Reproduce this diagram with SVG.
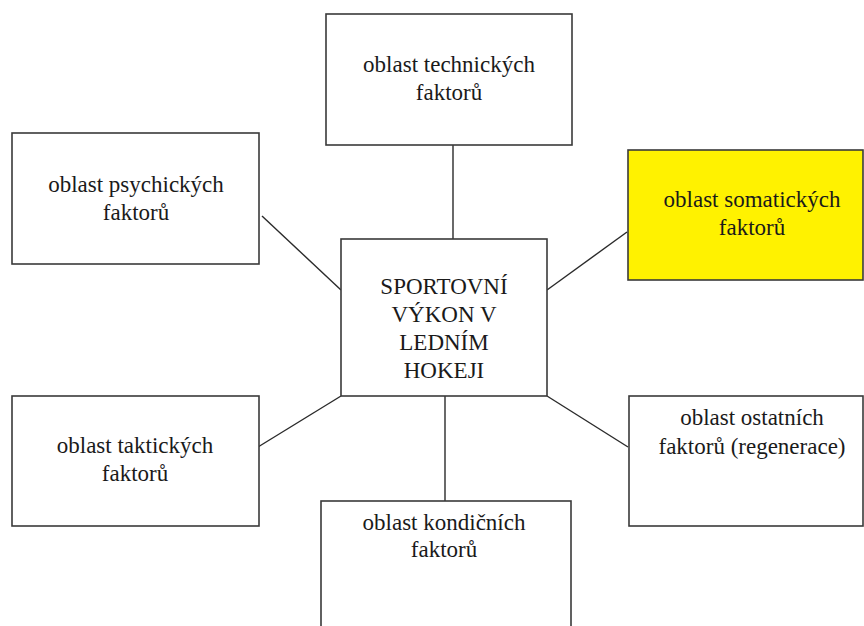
<svg xmlns="http://www.w3.org/2000/svg" width="864" height="626" viewBox="0 0 864 626">
<style>
.box{fill:#fff;stroke:#3a3a3a;stroke-width:1.6}
.yel{fill:#fff200;stroke:#3a3a3a;stroke-width:1.6}
.c{stroke:#2a2a2a;stroke-width:1.4;fill:none}
</style>
<rect width="864" height="626" fill="#fff"/>
<g id="connectors">
<line class="c" x1="453" y1="145" x2="453" y2="239"/>
<line class="c" x1="262" y1="216" x2="341" y2="290"/>
<line class="c" x1="547" y1="290" x2="627" y2="232"/>
<line class="c" x1="258" y1="447" x2="341" y2="396"/>
<line class="c" x1="547" y1="396" x2="628" y2="447"/>
<line class="c" x1="445" y1="396" x2="445" y2="501"/>
</g>
<g font-family="Liberation Serif, Times New Roman, serif" font-size="23" fill="#1a1a1a" text-anchor="middle">
<g id="center">
<rect class="box" x="341" y="239" width="206" height="157"/>
<text x="444" y="294">SPORTOVNÍ</text>
<text x="444" y="322">VÝKON V</text>
<text x="444" y="350">LEDNÍM</text>
<text x="444" y="378">HOKEJI</text>
</g>
<g id="technicke">
<rect class="box" x="326" y="14" width="246" height="131"/>
<text x="449" y="72">oblast technických</text>
<text x="449" y="100">faktorů</text>
</g>
<g id="psychicke">
<rect class="box" x="12" y="133" width="247" height="131"/>
<text x="136" y="192">oblast psychických</text>
<text x="136" y="220">faktorů</text>
</g>
<g id="somaticke">
<rect class="yel" x="628" y="150" width="235" height="130"/>
<text x="752" y="207">oblast somatických</text>
<text x="752" y="235">faktorů</text>
</g>
<g id="takticke">
<rect class="box" x="12" y="396" width="247" height="130"/>
<text x="135" y="453">oblast taktických</text>
<text x="135" y="481">faktorů</text>
</g>
<g id="ostatni">
<rect class="box" x="629" y="396" width="234" height="130"/>
<text x="752" y="425">oblast ostatních</text>
<text x="752" y="454">faktorů (regenerace)</text>
</g>
<g id="kondicni">
<rect class="box" x="321" y="501" width="250" height="140"/>
<text x="444" y="530">oblast kondičních</text>
<text x="444" y="557">faktorů</text>
</g>
</g>
</svg>
